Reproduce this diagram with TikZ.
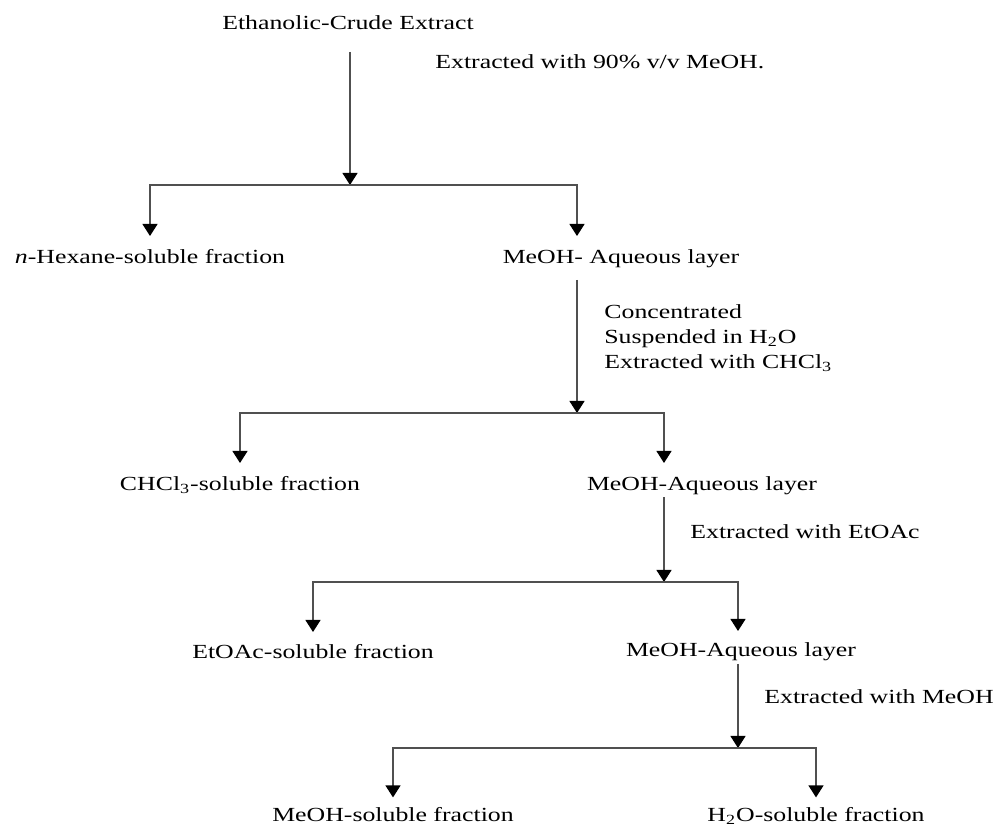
\documentclass[tikz,border=0pt]{standalone}
\usepackage{fontspec}
\setmainfont{Liberation Serif}[FakeStretch=1.29]
\usetikzlibrary{arrows.meta}
\definecolor{linegray}{RGB}{80,80,80}

\begin{document}
\begin{tikzpicture}[x=0.5pt,y=-0.5pt,
    stage/.style={
      inner sep=0pt,
      text height=8.6pt,
      text depth=2pt,
      font=\fontsize{10}{12.5}\selectfont
    },
    note/.style={
      inner sep=0pt,
      anchor=west,
      align=left,
      font=\fontsize{10}{12.5}\selectfont
    },
    flow/.style={
      -{Triangle[width=7.5pt,length=6pt,color=black]},
      draw=linegray,
      line width=0.6pt
    },
    drop/.style={
      flow,
      shorten >=5pt
    }
    ]
    \useasboundingbox (0,0) rectangle (997,828);
    %\draw[help lines] (0,0) grid (997,828);
    \node[stage] (A) at (348,23) {Ethanolic-Crude Extract};
    \node[note] (N1) at (435,62) {Extracted with 90\% v/v MeOH.};
    \coordinate (J1) at (350,185);
    \node[stage] (B) at (150,257) {\textit{n}-Hexane-soluble fraction};
    \node[stage] (C) at (621,257) {MeOH- Aqueous layer};
    \node[note] (N2) at (604,338) {Concentrated\\Suspended in H\textsubscript{2}O\\Extracted with CHCl\textsubscript{3}};
    \coordinate (J2) at (577,413);
    \node[stage] (D) at (240,484) {CHCl\textsubscript{3}-soluble fraction};
    \node[stage] (E) at (702,484) {MeOH-Aqueous layer};
    \node[note] (N3) at (690,532) {Extracted with EtOAc};
    \coordinate (J3) at (664,582);
    \node[stage] (F) at (313,652) {EtOAc-soluble fraction};
    \node[stage] (G) at (741,650) {MeOH-Aqueous layer};
    \node[note] (N4) at (764,697) {Extracted with MeOH};
    \coordinate (J4) at (738,748);
    \node[stage] (H) at (393,815) {MeOH-soluble fraction};
    \node[stage] (I) at (816,815) {H\textsubscript{2}O-soluble fraction};
    \draw[flow,shorten <=9pt] (A.south -| J1) -- (J1);
    \draw[drop] (J1) -| (B);
    \draw[drop] (J1) -| (J2 |- C.north);
    \draw[flow,shorten <=6pt] (C.south -| J2) -- (J2);
    \draw[drop] (J2) -| (D);
    \draw[drop] (J2) -| (J3 |- E.north);
    \draw[flow,shorten <=1.2pt] (E.south -| J3) -- (J3);
    \draw[drop,shorten >=4.5pt] (J3) -| (F);
    \draw[drop,shorten >=4pt] (J3) -| (J4 |- G.north);
    \draw[flow,shorten <=1.5pt] (G.south -| J4) -- (J4);
    \draw[drop,shorten >=3.3pt] (J4) -| (H);
    \draw[drop,shorten >=3.3pt] (J4) -| (I);
  \end{tikzpicture}
\end{document}
